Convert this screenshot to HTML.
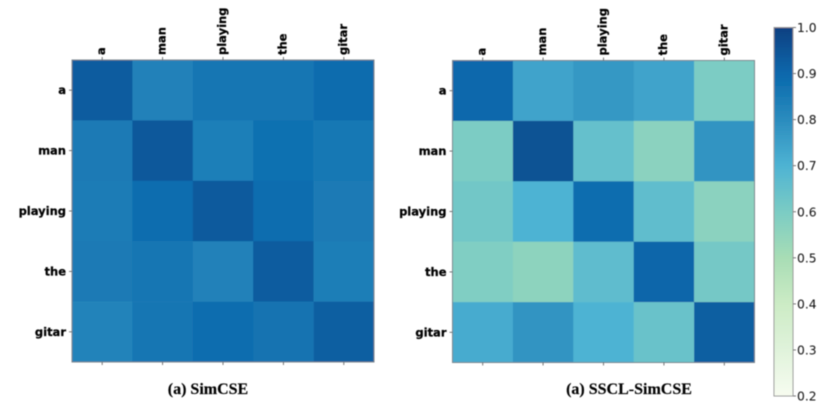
<!DOCTYPE html>
<html>
<head>
<meta charset="utf-8">
<title>SimCSE vs SSCL-SimCSE heatmaps</title>
<style>
html,body{margin:0;padding:0;background:#fff;width:831px;height:406px;overflow:hidden}
svg{display:block;position:absolute;left:0;top:0}
.tick-label{font-family:"DejaVu Sans","Liberation Sans",sans-serif;font-weight:700;font-size:11.5px;fill:#000;stroke:#000;stroke-width:0.25px}
.cb-label{font-family:"DejaVu Sans","Liberation Sans",sans-serif;font-size:12.3px;fill:#111}
.caption{font-family:"Liberation Serif",serif;font-weight:700;font-size:16px;fill:#000;stroke:#000;stroke-width:0.15px}
</style>
</head>
<body>
<svg id="fig" width="831" height="406" viewBox="0 0 831 406" xmlns="http://www.w3.org/2000/svg">
  <defs>
    <filter id="soft" x="-5%" y="-5%" width="110%" height="110%"><feGaussianBlur stdDeviation="0.45"/></filter>
    <linearGradient id="cb-grad" x1="0" y1="1" x2="0" y2="0"></linearGradient>
  </defs>
  <g id="root" filter="url(#soft)"></g>
</svg>
<script>
const tokens = ['a', 'man', 'playing', 'the', 'gitar'];
const simcseValues = [
  [0.93, 0.83, 0.86, 0.86, 0.89],
  [0.85, 0.94, 0.835, 0.875, 0.855],
  [0.845, 0.885, 0.935, 0.885, 0.85],
  [0.85, 0.86, 0.83, 0.93, 0.84],
  [0.825, 0.86, 0.885, 0.87, 0.925]
];
const ssclValues = [
  [0.90, 0.74, 0.77, 0.74, 0.60],
  [0.60, 0.955, 0.65, 0.565, 0.78],
  [0.62, 0.70, 0.885, 0.66, 0.565],
  [0.59, 0.56, 0.665, 0.905, 0.615],
  [0.72, 0.78, 0.70, 0.64, 0.925]
];
const colorbarTicks = [1.0, 0.9, 0.8, 0.7, 0.6, 0.5, 0.4, 0.3, 0.2];
const captionSimcse = '(a) SimCSE';
const captionSscl = '(a) SSCL-SimCSE';
const gnbu = ['#f7fcf0', '#e0f3db', '#ccebc5', '#a8ddb5', '#7bccc4', '#4eb3d3', '#2b8cbe', '#0868ac', '#084081'];

const NS = 'http://www.w3.org/2000/svg';
const root = document.getElementById('root');
const vMin = 0.2, vMax = 1.0;

function make(tag, attrs, parent) {
  const el = document.createElementNS(NS, tag);
  for (const k in attrs) el.setAttribute(k, attrs[k]);
  parent.appendChild(el);
  return el;
}
function hexToRgb(h) {
  return [parseInt(h.slice(1, 3), 16), parseInt(h.slice(3, 5), 16), parseInt(h.slice(5, 7), 16)];
}
function colorScale(v) {
  const t = Math.max(0, Math.min(1, (v - vMin) / (vMax - vMin))) * (gnbu.length - 1);
  const i = Math.min(gnbu.length - 2, Math.floor(t));
  const f = t - i;
  const a = hexToRgb(gnbu[i]), b = hexToRgb(gnbu[i + 1]);
  return 'rgb(' + a.map((c, n) => Math.round(c + (b[n] - c) * f)).join(',') + ')';
}

function drawHeatmap(values, left, top, size, caption, captionX, slug) {
  const n = tokens.length;
  const cell = size / n;
  const xBand = i => left + i * cell;
  const yBand = i => top + i * cell;
  const g = make('g', {}, root);
  
  

  values.forEach((row, r) => {
    row.forEach((v, c) => {
      const rect = make('rect', {
        x: xBand(c), y: yBand(r), width: cell + 0.3, height: cell + 0.3, fill: colorScale(v)
      }, g);
      
      
    });
  });

  const frame = make('rect', {
    x: left, y: top, width: size, height: size, fill: 'none', stroke: '#7c868c', 'stroke-width': 1
  }, g);
  
  

  tokens.forEach((tok, i) => {
    const cx = xBand(i) + cell / 2;
    const cy = yBand(i) + cell / 2;

    const topTick = make('line', { x1: cx, x2: cx, y1: top, y2: top - 3, stroke: '#555', 'stroke-width': 0.8 }, g);
    
    

    const bottomTick = make('line', { x1: cx, x2: cx, y1: top + size, y2: top + size + 3, stroke: '#555', 'stroke-width': 0.8 }, g);
    
    

    const leftTick = make('line', { x1: left, x2: left - 3, y1: cy, y2: cy, stroke: '#555', 'stroke-width': 0.8 }, g);
    
    

    const xLabel = make('text', {
      class: 'tick-label', x: 0, y: 0, 'text-anchor': 'start',
      transform: 'translate(' + (cx + 3) + ',' + (top - 5) + ') rotate(-90)'
    }, g);
    xLabel.textContent = tok;
    
    

    const yLabel = make('text', {
      class: 'tick-label', x: left - 6, y: cy + 4, 'text-anchor': 'end'
    }, g);
    yLabel.textContent = tok;
    
    
  });

  const cap = make('text', { class: 'caption', x: captionX, y: 394, 'text-anchor': 'middle' }, g);
  cap.textContent = caption;
  
  
}

function drawColorbar(left, top, width, height) {
  const yScale = v => top + (vMax - v) / (vMax - vMin) * height;
  const grad = document.getElementById('cb-grad');
  gnbu.forEach((col, i) => {
    make('stop', { offset: (i / (gnbu.length - 1)), 'stop-color': col }, grad);
  });
  const g = make('g', {}, root);
  
  

  const bar = make('rect', {
    x: left, y: top, width: width, height: height, fill: 'url(#cb-grad)', stroke: '#9a9a9a', 'stroke-width': 1
  }, g);
  
  

  colorbarTicks.forEach(v => {
    const y = yScale(v);
    const tick = make('line', { x1: left + width, x2: left + width + 3, y1: y, y2: y, stroke: '#555', 'stroke-width': 0.8 }, g);
    
    

    const label = make('text', { class: 'cb-label', x: left + width + 4, y: y + 4.5 }, g);
    label.textContent = v.toFixed(1);
    
    
  });
}

drawHeatmap(simcseValues, 72, 60, 302, captionSimcse, 208, 'simcse');
drawHeatmap(ssclValues, 452.5, 60.5, 302, captionSscl, 629, 'sscl-simcse');
drawColorbar(774, 27.5, 19, 368.5);
</script>
</body>
</html>
